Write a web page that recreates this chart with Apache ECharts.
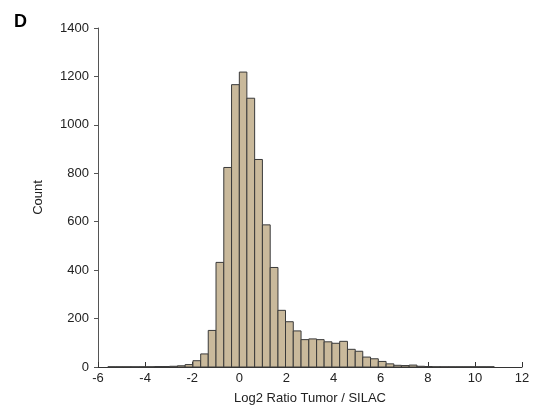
<!DOCTYPE html>
<html>
<head>
<meta charset="utf-8">
<script src="https://cdn.jsdelivr.net/npm/echarts@6/dist/echarts.min.js"></script>
<style>
  html, body { margin: 0; padding: 0; background: #fff; }
  #chart { width: 537px; height: 411px; }
</style>
</head>
<body>
<div id="chart"></div>
<script>
// histogram bin edges (log2 ratio) and counts per bin
const binEdges = [
  -5.58, -5.25, -4.92, -4.60, -4.27, -3.94, -3.61, -3.28, -2.96, -2.63,
  -2.30, -1.97, -1.64, -1.32, -0.99, -0.66, -0.33, 0.00, 0.32, 0.65,
  0.98, 1.31, 1.64, 1.96, 2.29, 2.62, 2.95, 3.28, 3.60, 3.93,
  4.26, 4.59, 4.92, 5.24, 5.57, 5.90, 6.23, 6.56, 6.88, 7.21,
  7.54, 7.87, 8.20, 8.52, 8.85, 9.18, 9.51, 9.84, 10.16, 10.49, 10.82
];
const counts = [
  1, 1, 1, 1, 1, 1, 2, 2, 3, 5,
  10, 26, 54, 151, 432, 824, 1166, 1218, 1110, 857,
  587, 411, 234, 187, 149, 113, 116, 113, 104, 98,
  106, 73, 65, 41, 34, 23, 13, 7, 6, 8,
  3, 2, 1, 1, 1, 1, 1, 1, 1, 1
];
const xTicks = [-6, 12, 2];     // min, max, step
const yTicks = [0, 1400, 200];

const bins = counts.map((c, i) => [binEdges[i], binEdges[i + 1], c]);

const chart = echarts.init(document.getElementById("chart"));
chart.setOption({
  animation: false,
  textStyle: { fontFamily: "Liberation Sans, Arial, sans-serif" },
  title: {
    text: "D",
    left: 9,
    top: 8,
    textStyle: { fontSize: 18, fontWeight: "bold", color: "#000", fontFamily: "Liberation Sans, Arial, sans-serif" },
  },
  grid: { left: 98, right: 15, top: 28, bottom: 44 },
  xAxis: {
    type: "value",
    min: xTicks[0],
    max: xTicks[1],
    interval: xTicks[2],
    name: "Log2 Ratio Tumor / SILAC",
    nameLocation: "middle",
    nameGap: 25,
    nameTextStyle: { fontSize: 13, color: "#222" },
    splitLine: { show: false },
    axisLine: { onZero: false, lineStyle: { color: "#333", width: 1 } },
    axisTick: { inside: true, length: 5, lineStyle: { color: "#333" } },
    axisLabel: { fontSize: 13, color: "#222", margin: 5 },
  },
  yAxis: {
    type: "value",
    min: yTicks[0],
    max: yTicks[1],
    interval: yTicks[2],
    name: "Count",
    nameLocation: "middle",
    nameGap: 53,
    nameTextStyle: { fontSize: 13, color: "#222" },
    splitLine: { show: false },
    axisLine: { show: true, onZero: false, lineStyle: { color: "#555", width: 1 } },
    axisTick: { show: true, length: 4, lineStyle: { color: "#555" } },
    axisLabel: { fontSize: 13, color: "#222", margin: 9, formatter: (v) => String(v) },
  },
  series: [
    {
      type: "custom",
      data: bins,
      encode: { x: [0, 1], y: 2 },
      renderItem: (params, api) => {
        const p0 = api.coord([api.value(0), 0]);
        const p1 = api.coord([api.value(1), api.value(2)]);
        return {
          type: "rect",
          shape: { x: p0[0], y: p1[1], width: p1[0] - p0[0], height: p0[1] - p1[1] },
          style: { fill: "#c9b99b", stroke: "#3a3a3a", lineWidth: 1 },
        };
      },
    },
  ],
});
</script>
</body>
</html>
